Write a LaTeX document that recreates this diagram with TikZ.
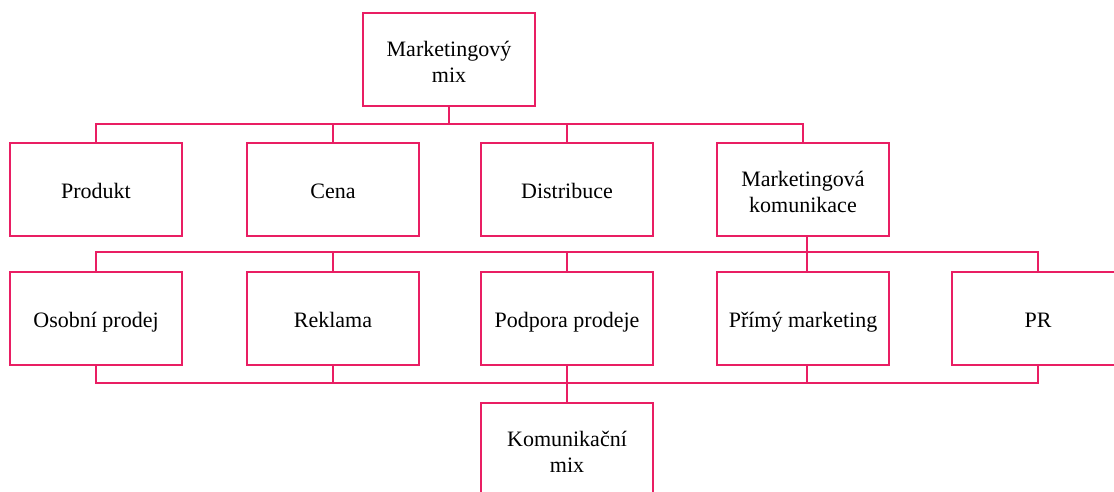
\documentclass[tikz,border=0pt]{standalone}
\usepackage{fontspec}
\setmainfont{Liberation Serif}
\definecolor{pk}{RGB}{233,30,99}
\newcommand\twolines[2]{\begin{tabular}{@{}c@{}}\rule{0pt}{28pt}#1\\#2\end{tabular}}
\begin{document}
\begin{tikzpicture}[x=1pt,y=-1pt,
 box/.style={draw=pk,line width=2pt,fill=white,minimum width=172pt,minimum height=93pt,align=center,font=\fontsize{22}{26}\selectfont,inner sep=0pt},
 one/.style={box,execute at begin node=\rule{0pt}{25.5pt},execute at end node=\strut},
 link/.style={draw=pk,line width=2pt}]
\useasboundingbox (0,0) rectangle (1114,491);
% nodes
\node[box] (top) at (449,59) {\twolines{Marketingový}{mix}};
\node[one] (produkt) at (96,189.5) {Produkt};
\node[one] (cena) at (333,189.5) {Cena};
\node[one] (distr) at (567,189.5) {Distribuce};
\node[box] (mk) at (803,189.5) {\twolines{Marketingová}{komunikace}};
\node[one] (osobni) at (96,318.5) {Osobní prodej};
\node[one] (reklama) at (333,318.5) {Reklama};
\node[one] (podpora) at (567,318.5) {Podpora prodeje};
\node[one] (primy) at (803,318.5) {Přímý marketing};
\node[one] (pr) at (1038,318.5) {PR};
\node[box] (kom) at (567,449.5) {\twolines{Komunikační}{mix}};
% buses
\coordinate (b1) at (449,124);
\coordinate (b2) at (807,252);
\coordinate (b3) at (567,383);
\draw[link] (top.south) -- (b1);
\draw[link] (produkt.north) |- (b1);
\draw[link] (cena.north) |- (b1);
\draw[link] (distr.north) |- (b1);
\draw[link] (mk.north) |- (b1);
\draw[link] ([xshift=4pt]mk.south) -- (b2);
\draw[link] (osobni.north) |- (b2);
\draw[link] (reklama.north) |- (b2);
\draw[link] (podpora.north) |- (b2);
\draw[link] ([xshift=4pt]primy.north) -- (b2);
\draw[link] (pr.north) |- (b2);
\draw[link] (osobni.south) |- (b3);
\draw[link] (reklama.south) |- (b3);
\draw[link] (podpora.south) -- (b3);
\draw[link] ([xshift=4pt]primy.south) |- (b3);
\draw[link] (pr.south) |- (b3);
\draw[link] (b3) -- (kom.north);
\end{tikzpicture}
\end{document}
